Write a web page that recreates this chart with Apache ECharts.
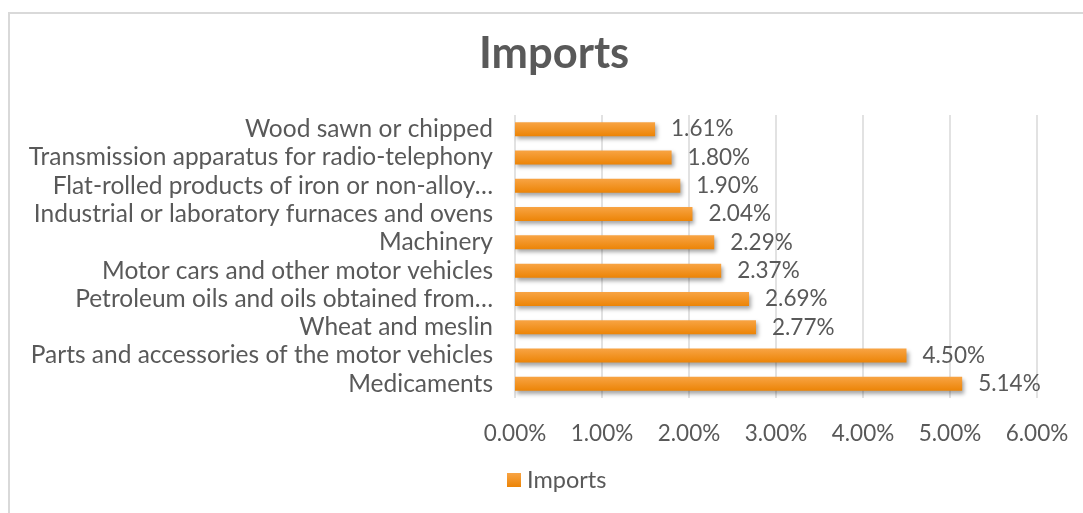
<!DOCTYPE html>
<html>
<head>
<meta charset="utf-8">
<script src="https://cdn.jsdelivr.net/npm/echarts@6/dist/echarts.min.js"></script>
<style>
  html, body { margin: 0; padding: 0; background: #fff; }
  #frame { position: absolute; left: 8px; top: 12px; width: 1090px; height: 520px;
           border: 2px solid #d9d9d9; box-sizing: border-box; }
  #chart { position: absolute; left: 0; top: 0; width: 1083px; height: 513px; }
</style>
</head>
<body>
<div id="frame"></div>
<div id="chart"></div>
<script>
// Import categories, bottom to top as drawn on the category axis
const categories = [
  'Medicaments',
  'Parts and accessories of the motor vehicles',
  'Wheat and meslin',
  'Petroleum oils and oils obtained from…',
  'Motor cars and other motor vehicles',
  'Machinery',
  'Industrial or laboratory furnaces and ovens',
  'Flat-rolled products of iron or non-alloy…',
  'Transmission apparatus for radio-telephony',
  'Wood sawn or chipped'
];
// Share of imports, in percent
const importShares = [5.14, 4.50, 2.77, 2.69, 2.37, 2.29, 2.04, 1.90, 1.80, 1.61];
const seriesName = 'Imports';
const chartTitle = 'Imports';

const FONT = 'Lato';
const TEXT = '#595959';

const chart = echarts.init(document.getElementById('chart'), null, { renderer: 'canvas' });
chart.setOption({
  animation: false,
  backgroundColor: 'transparent',
  title: {
    text: chartTitle,
    left: 479,
    top: 32,
    padding: 0,
    textStyle: { fontFamily: FONT, fontSize: 43.5, fontWeight: 'bold', color: TEXT }
  },
  legend: {
    data: [seriesName],
    left: 507,
    top: 468,
    padding: 0,
    icon: 'rect',
    itemWidth: 14,
    itemHeight: 14,
    itemGap: 4,
    textStyle: { fontFamily: FONT, fontSize: 23.5, color: TEXT, padding: [0, 0, 0, 1] }
  },
  grid: { left: 515, right: 46, top: 115, bottom: 115, containLabel: false },
  xAxis: {
    type: 'value',
    min: 0,
    max: 6,
    interval: 1,
    axisLine: { show: false },
    axisTick: { show: false },
    splitLine: { lineStyle: { color: '#d9d9d9', width: 1.5 } },
    axisLabel: {
      margin: 24,
      fontFamily: FONT,
      fontSize: 22.5,
      color: TEXT,
      formatter: v => v.toFixed(2) + '%'
    }
  },
  yAxis: {
    type: 'category',
    data: categories,
    axisLine: { show: false },
    axisTick: { show: false },
    axisLabel: { interval: 0, margin: 22, fontFamily: FONT, fontSize: 24.5, color: TEXT }
  },
  series: [{
    name: seriesName,
    type: 'bar',
    data: importShares,
    barWidth: 14,
    itemStyle: {
      color: new echarts.graphic.LinearGradient(0, 0, 0, 1, [
        { offset: 0, color: '#f8a444' },
        { offset: 1, color: '#ec8406' }
      ]),
      shadowColor: 'rgba(0,0,0,0.35)',
      shadowBlur: 4,
      shadowOffsetX: 2,
      shadowOffsetY: 3
    },
    label: {
      show: true,
      position: 'right',
      distance: 16,
      fontFamily: FONT,
      fontSize: 22.5,
      color: TEXT,
      formatter: p => p.value.toFixed(2) + '%'
    }
  }]
});
</script>
</body>
</html>
